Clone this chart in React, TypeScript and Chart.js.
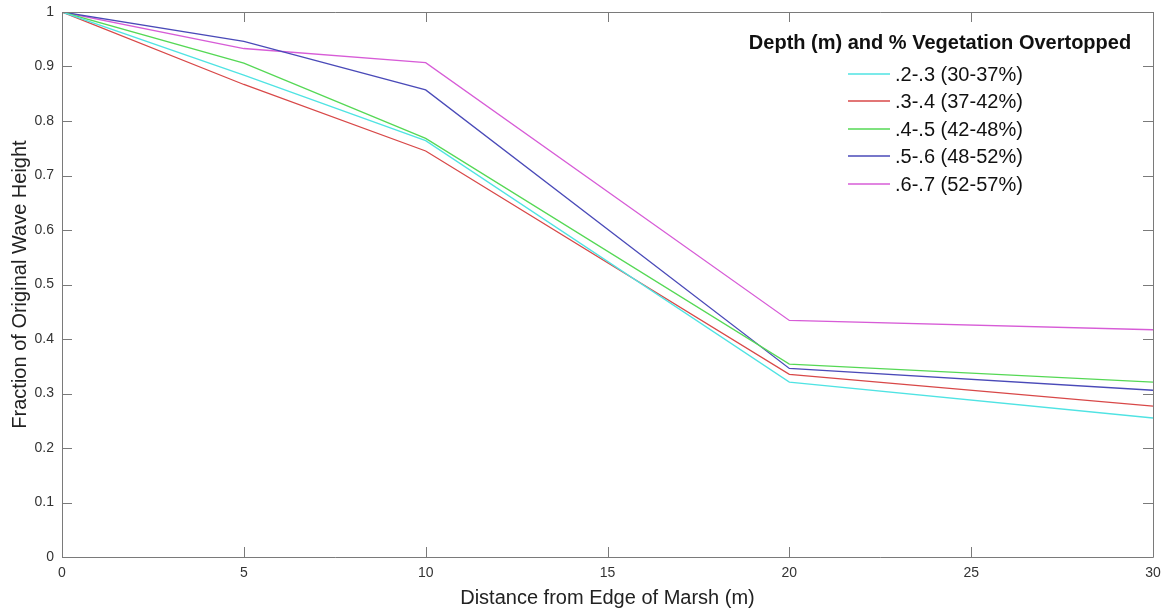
import React, { useEffect, useRef } from "react";
import { Chart, registerables } from "chart.js";

Chart.register(...registerables);

const distances = [0, 5, 10, 20, 30];
const seriesLabels = [".2-.3 (30-37%)", ".3-.4 (37-42%)", ".4-.5 (42-48%)", ".5-.6 (48-52%)", ".6-.7 (52-57%)"];
const depth23 = [1, 0.884, 0.764, 0.321, 0.255];
const depth34 = [1, 0.867, 0.745, 0.335, 0.277];
const depth45 = [1, 0.906, 0.768, 0.354, 0.321];
const depth56 = [1, 0.946, 0.857, 0.346, 0.306];
const depth67 = [1, 0.933, 0.907, 0.434, 0.417];
const seriesColors = ["#4fe3e3", "#d84848", "#55d855", "#4a4ab8", "#d75cd7"];
const legendTitle = "Depth (m) and % Vegetation Overtopped";
const xTitle = "Distance from Edge of Marsh (m)";
const yTitle = "Fraction of Original Wave Height";

const FONT = "'Liberation Sans', Arial, sans-serif";
const AXIS = "#7a7a7a";

const boxPlugin = {
  id: "boxPlugin",
  afterDatasetsDraw(chart: any) {
    const { ctx, chartArea: a, scales } = chart;
    const xs = scales.x;
    const ys = scales.y;
    ctx.save();
    ctx.strokeStyle = AXIS;
    ctx.lineWidth = 1;
    ctx.beginPath();
    ctx.rect(Math.round(a.left) + 0.5, Math.round(a.top) + 0.5, Math.round(a.right - a.left), Math.round(a.bottom - a.top));
    ctx.stroke();
    const tl = 10;
    ctx.beginPath();
    xs.ticks.forEach((t: any) => {
      const px = Math.round(xs.getPixelForValue(t.value)) + 0.5;
      ctx.moveTo(px, a.bottom);
      ctx.lineTo(px, a.bottom - tl);
      ctx.moveTo(px, a.top);
      ctx.lineTo(px, a.top + tl);
    });
    ys.ticks.forEach((t: any) => {
      const py = Math.round(ys.getPixelForValue(t.value)) + 0.5;
      ctx.moveTo(a.left, py);
      ctx.lineTo(a.left + tl, py);
      ctx.moveTo(a.right, py);
      ctx.lineTo(a.right - tl, py);
    });
    ctx.stroke();

    // legend
    ctx.fillStyle = "#111";
    ctx.font = `bold 20px ${FONT}`;
    ctx.textAlign = "center";
    ctx.textBaseline = "middle";
    ctx.fillText(legendTitle, 940, 43);
    ctx.font = `20px ${FONT}`;
    ctx.textAlign = "left";
    seriesLabels.forEach((label, i) => {
      const y = Math.round(73.5 + i * 27.5);
      ctx.strokeStyle = seriesColors[i];
      ctx.lineWidth = 1.5;
      ctx.beginPath();
      ctx.moveTo(848, y);
      ctx.lineTo(890, y);
      ctx.stroke();
      ctx.fillStyle = "#111";
      ctx.fillText(label, 895, y + 1);
    });
    ctx.restore();
  },
};

export default function App() {
  const ref = useRef<HTMLCanvasElement>(null);
  useEffect(() => {
    if (!ref.current) return;
    const series = [depth23, depth34, depth45, depth56, depth67];
    const chart = new Chart(ref.current, {
      type: "line",
      data: {
        datasets: series.map((vals, i) => ({
          label: seriesLabels[i],
          data: distances.map((d, j) => ({ x: d, y: vals[j] })),
          borderColor: seriesColors[i],
          backgroundColor: seriesColors[i],
          borderWidth: 1.3,
          pointRadius: 0,
          tension: 0,
          fill: false,
        })),
      },
      options: {
        animation: false,
        responsive: false,
        maintainAspectRatio: false,
        layout: { padding: { top: 12, right: 14, left: 0, bottom: 0 } },
        plugins: { legend: { display: false }, tooltip: { enabled: false } },
        scales: {
          x: {
            type: "linear",
            min: 0,
            max: 30,
            grid: { display: false, drawTicks: false },
            border: { display: false },
            ticks: { stepSize: 5, padding: 8, color: "#333", font: { family: FONT, size: 14 } },
            title: { display: true, text: xTitle, color: "#222", font: { family: FONT, size: 20 }, padding: { top: 0, bottom: 3 } },
            afterFit: (s: any) => { s.height = 56; s.paddingLeft = 0; s.paddingRight = 0; },
          },
          y: {
            type: "linear",
            min: 0,
            max: 1,
            grid: { display: false, drawTicks: false },
            border: { display: false },
            ticks: {
              stepSize: 0.1,
              padding: 8,
              color: "#333",
              font: { family: FONT, size: 14 },
              callback: (v: any) => String(Math.round(Number(v) * 10) / 10),
            },
            title: { display: true, text: yTitle, color: "#222", font: { family: FONT, size: 20 }, padding: { top: 8, bottom: 0 } },
            afterFit: (s: any) => { s.width = 62; s.paddingTop = 0; s.paddingBottom = 0; },
          },
        },
      },
      plugins: [boxPlugin],
    } as any);
    return () => chart.destroy();
  }, []);
  return (
    <div style={{ position: "absolute", left: 0, top: 0, width: 1167, height: 613, background: "#fff" }}>
      <canvas ref={ref} width={1167} height={613} />
    </div>
  );
}
